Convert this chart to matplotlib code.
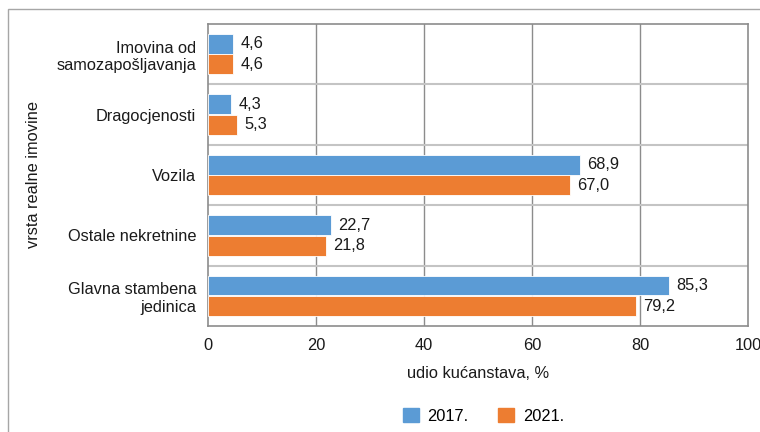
import matplotlib.pyplot as plt
import matplotlib.patches as mpatches
import numpy as np

plt.rcParams['font.family'] = ['Liberation Sans', 'DejaVu Sans']

# asset categories, top to bottom
categories = ['Imovina od\nsamozapošljavanja', 'Dragocjenosti', 'Vozila',
              'Ostale nekretnine', 'Glavna stambena\njedinica']
share_2017 = [4.6, 4.3, 68.9, 22.7, 85.3]
share_2021 = [4.6, 5.3, 67.0, 21.8, 79.2]
years = ['2017.', '2021.']
xticks = [0, 20, 40, 60, 80, 100]

blue = '#5B9BD5'
orange = '#ED7D31'
fs = 11.8

fig = plt.figure(figsize=(7.6, 4.32), dpi=100)
ax = fig.add_axes([0.2737, 0.2454, 0.7105, 0.6991])

y = np.arange(len(categories))
h = 0.33
b1 = ax.barh(y - h / 2 - 0.005, share_2017, height=h, color=blue,
             edgecolor='white', linewidth=0.6, zorder=3)
b2 = ax.barh(y + h / 2 + 0.005, share_2021, height=h, color=orange,
             edgecolor='white', linewidth=0.6, zorder=3)

for bars, vals in ((b1, share_2017), (b2, share_2021)):
    for bar, v in zip(bars, vals):
        ax.text(v + 1.4, bar.get_y() + bar.get_height() / 2,
                f'{v:.1f}'.replace('.', ','), va='center', ha='left',
                fontsize=fs, color='#1a1a1a')

ax.set_xlim(0, 100)
ax.set_ylim(len(categories) - 0.5, -0.5)
ax.set_xticks(xticks)
ax.set_xticklabels([str(t) for t in xticks])
ax.set_yticks(y)
ax.set_yticklabels(categories, fontsize=fs, ha='right')
ax.tick_params(axis='both', length=0, labelsize=fs, colors='#1a1a1a')
ax.tick_params(axis='y', pad=8.5)
ax.tick_params(axis='x', pad=9)

# grid: darker vertical lines, light separators between categories
for t in xticks[1:-1]:
    ax.axvline(t, color='#8c8c8c', linewidth=1.0, zorder=1)
for s in np.arange(0.5, len(categories) - 0.5, 1):
    ax.axhline(s, color='#c4c4c4', linewidth=1.5, zorder=1)
for sp in ax.spines.values():
    sp.set_color('#8c8c8c')
    sp.set_linewidth(1.2)

ax.set_xlabel('udio kućanstava, %', fontsize=fs, labelpad=9, color='#1a1a1a')
fig.text(0.044, 0.595, 'vrsta realne imovine', rotation=90, ha='center',
         va='center', fontsize=fs, color='#1a1a1a')

handles = [mpatches.Patch(color=blue, label=years[0]),
           mpatches.Patch(color=orange, label=years[1])]
fig.legend(handles=handles, loc='center', bbox_to_anchor=(0.636, 0.038),
           ncol=2, frameon=False, fontsize=fs, handlelength=1.0,
           handleheight=1.0, columnspacing=1.8, handletextpad=0.5)

# outer chart frame
fig.patches.append(mpatches.Rectangle((0.0105, -0.1), 1.2, 1.079,
                                      transform=fig.transFigure,
                                      fill=False, edgecolor='#a6a6a6',
                                      linewidth=1.0))

fig.savefig('out.png', dpi=100)
